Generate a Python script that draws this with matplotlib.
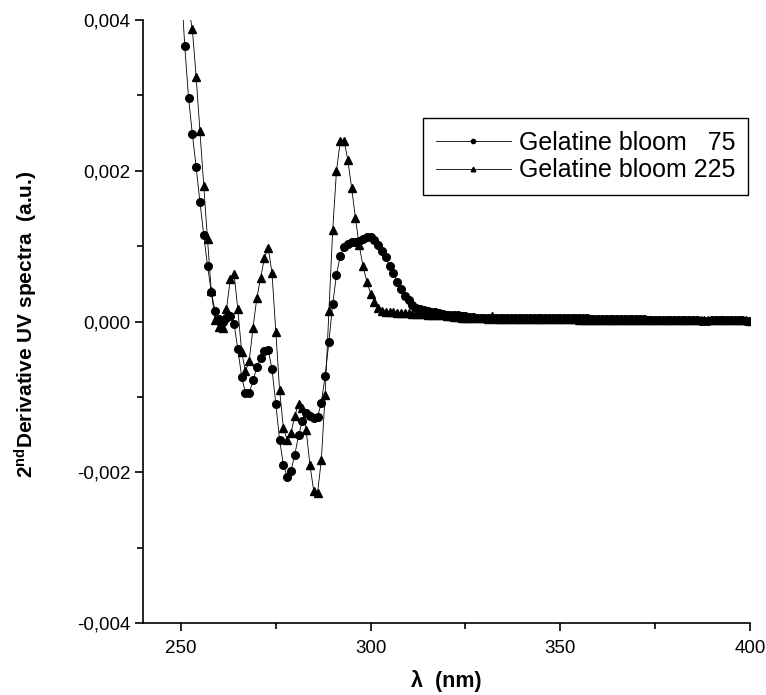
import matplotlib.pyplot as plt
import numpy as np
from matplotlib.ticker import MultipleLocator, FuncFormatter

plt.rcParams['font.family'] = ['Liberation Sans', 'DejaVu Sans']
plt.rcParams['mathtext.fontset'] = 'custom'
plt.rcParams['mathtext.rm'] = 'Liberation Sans:bold'
plt.rcParams['mathtext.it'] = 'Liberation Sans:bold'
plt.rcParams['mathtext.bf'] = 'Liberation Sans:bold'
plt.rcParams['mathtext.default'] = 'bf'

# wavelengths (nm)
wl_75 = np.arange(250, 401)
wl_225 = np.arange(252, 401)

# 2nd derivative, gelatine bloom 75
d2_75 = [
    0.00450, 0.00366, 0.00297, 0.00249, 0.00205, 0.00159, 0.00115, 0.00074, 0.00039, 0.00014,  # 250-259
    0.00003, 0.00000, 0.00004, 0.00007, -0.00003, -0.00037, -0.00073, -0.00095, -0.00095, -0.00078,  # 260-269
    -0.00061, -0.00049, -0.00039, -0.00038, -0.00063, -0.00109, -0.00157, -0.00190, -0.00206, -0.00198,  # 270-279
    -0.00177, -0.00151, -0.00132, -0.00122, -0.00125, -0.00128, -0.00127, -0.00108, -0.00072, -0.00027,  # 280-289
    0.00023, 0.00062, 0.00087, 0.00099, 0.00103, 0.00105, 0.00106, 0.00107, 0.00109, 0.00112,  # 290-299
    0.00112, 0.00108, 0.00101, 0.00094, 0.00085, 0.00074, 0.00064, 0.00053, 0.00043, 0.00034,  # 300-309
    0.00028, 0.00022, 0.00018, 0.00016, 0.00015, 0.00014, 0.00013, 0.00012, 0.00011, 0.00010,  # 310-319
    0.00009, 0.00009, 0.00008, 0.00008, 0.00007, 0.00007, 0.00006, 0.00006, 0.00005, 0.00005,  # 320-329
    0.00005, 0.00004, 0.00004, 0.00004, 0.00004, 0.00004, 0.00004, 0.00004, 0.00004, 0.00004,  # 330-339
    0.00004, 0.00004, 0.00004, 0.00004, 0.00004, 0.00005, 0.00005, 0.00005, 0.00005, 0.00005,  # 340-349
    0.00005, 0.00005, 0.00005, 0.00005, 0.00004, 0.00004, 0.00004, 0.00004, 0.00003, 0.00003,  # 350-359
    0.00003, 0.00003, 0.00003, 0.00003, 0.00003, 0.00003, 0.00003, 0.00003, 0.00003, 0.00003,  # 360-369
    0.00003, 0.00003, 0.00003, 0.00002, 0.00002, 0.00002, 0.00002, 0.00002, 0.00002, 0.00002,  # 370-379
    0.00002, 0.00002, 0.00002, 0.00002, 0.00002, 0.00002, 0.00002, 0.00001, 0.00001, 0.00001,  # 380-389
    0.00002, 0.00002, 0.00002, 0.00002, 0.00002, 0.00002, 0.00002, 0.00002, 0.00002, 0.00001,  # 390-399
    0.00001,  # 400
]

# 2nd derivative, gelatine bloom 225
d2_225 = [
    0.00416, 0.00388, 0.00325, 0.00253, 0.00180, 0.00109, 0.00040, 0.00002,  # 252-259
    -0.00007, -0.00008, 0.00016, 0.00056, 0.00063, 0.00016, -0.00040, -0.00066, -0.00052, -0.00008,  # 260-269
    0.00031, 0.00058, 0.00084, 0.00098, 0.00064, -0.00014, -0.00091, -0.00141, -0.00157, -0.00148,  # 270-279
    -0.00125, -0.00109, -0.00115, -0.00144, -0.00190, -0.00225, -0.00228, -0.00184, -0.00098, 0.00014,  # 280-289
    0.00121, 0.00200, 0.00239, 0.00240, 0.00214, 0.00177, 0.00137, 0.00101, 0.00073, 0.00053,  # 290-299
    0.00037, 0.00026, 0.00018, 0.00014, 0.00013, 0.00012, 0.00012, 0.00011, 0.00011, 0.00011,  # 300-309
    0.00011, 0.00010, 0.00010, 0.00010, 0.00010, 0.00009, 0.00009, 0.00009, 0.00008, 0.00008,  # 310-319
    0.00007, 0.00007, 0.00006, 0.00006, 0.00005, 0.00005, 0.00005, 0.00004, 0.00004, 0.00004,  # 320-329
    0.00004, 0.00003, 0.00007, 0.00003, 0.00003, 0.00003, 0.00003, 0.00003, 0.00003, 0.00003,  # 330-339
    0.00003, 0.00003, 0.00003, 0.00003, 0.00003, 0.00003, 0.00003, 0.00003, 0.00003, 0.00003,  # 340-349
    0.00003, 0.00003, 0.00003, 0.00003, 0.00003, 0.00002, 0.00002, 0.00002, 0.00002, 0.00002,  # 350-359
    0.00002, 0.00002, 0.00002, 0.00002, 0.00002, 0.00002, 0.00002, 0.00002, 0.00002, 0.00002,  # 360-369
    0.00002, 0.00002, 0.00002, 0.00002, 0.00002, 0.00002, 0.00002, 0.00002, 0.00002, 0.00002,  # 370-379
    0.00002, 0.00002, 0.00002, 0.00002, 0.00002, 0.00002, 0.00002, 0.00002, 0.00002, 0.00002,  # 380-389
    0.00002, 0.00002, 0.00002, 0.00002, 0.00002, 0.00002, 0.00002, 0.00002, 0.00002, 0.00002,  # 390-399
    0.00001,  # 400
]

fig = plt.figure(figsize=(7.66, 6.95), dpi=100)
ax = fig.add_axes([0.1867, 0.1036, 0.7924, 0.8676])

ax.plot(wl_75, d2_75, color='k', lw=0.6, marker='o', ms=5.5, mfc='k', mec='k',
        label='Gelatine bloom   75')
ax.plot(wl_225, d2_225, color='k', lw=0.6, marker='^', ms=6, mfc='k', mec='k',
        label='Gelatine bloom 225')

ax.set_xlim(240, 400)
ax.set_ylim(-0.004, 0.004)
ax.xaxis.set_major_locator(MultipleLocator(50))
ax.xaxis.set_minor_locator(MultipleLocator(25))
ax.yaxis.set_major_locator(MultipleLocator(0.002))
ax.yaxis.set_minor_locator(MultipleLocator(0.001))
ax.xaxis.set_major_formatter(FuncFormatter(lambda v, p: f'{v:.0f}'))
ax.yaxis.set_major_formatter(FuncFormatter(lambda v, p: f'{v:.3f}'.replace('.', ',').replace('-0,000', '0,000')))

for s in ['top', 'right']:
    ax.spines[s].set_visible(False)
for s in ['left', 'bottom']:
    ax.spines[s].set_linewidth(1.2)
ax.tick_params(which='major', direction='out', length=6, width=1.2)
ax.tick_params(which='minor', direction='out', length=4, width=1.2)
ax.tick_params(axis='y', which='major', labelsize=13.5, pad=3)
ax.tick_params(axis='x', which='major', labelsize=13.5, pad=6)

ax.set_xlabel('λ  (nm)', fontsize=15.5, fontweight='bold')
ax.xaxis.set_label_coords(0.5, -0.078)
ax.set_ylabel(r'2$^{nd}$Derivative UV spectra  (a.u.)', fontsize=15, fontweight='bold')
ax.yaxis.set_label_coords(-0.17, 0.495)

leg = ax.legend(loc='upper right', bbox_to_anchor=(0.996, 0.8375), fontsize=18,
                fancybox=False, edgecolor='k', framealpha=1, handlelength=3,
                markerscale=0.55, borderpad=0.5, labelspacing=0.15, handletextpad=0.32,
                borderaxespad=0)
leg.get_frame().set_linewidth(1.0)

plt.savefig('out.png', dpi=100)
